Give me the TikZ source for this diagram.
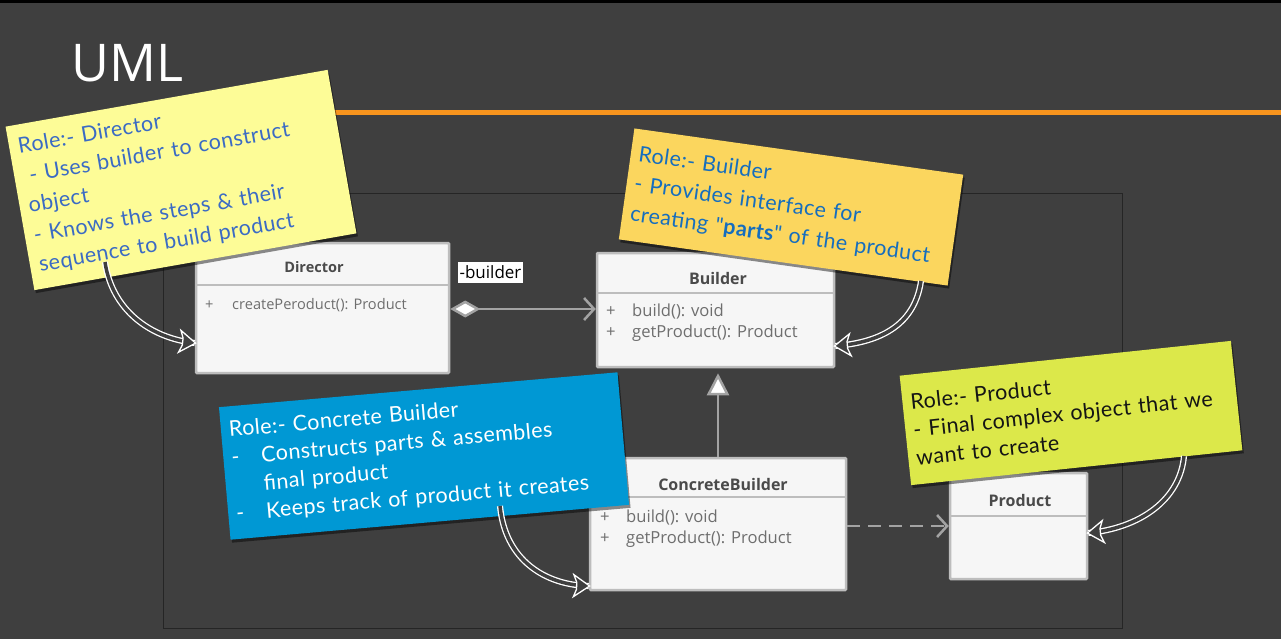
\documentclass[tikz,border=0pt]{standalone}
\usepackage{fontspec}
\setmainfont{Open Sans}
\newfontfamily\notefont[LetterSpace=2]{Lato}
\usetikzlibrary{arrows.meta,shadows,decorations.markings}
\definecolor{bgc}{HTML}{3F3F3F}
\definecolor{framec}{HTML}{252525}
\definecolor{orangec}{HTML}{F7941D}
\definecolor{boxfill}{HTML}{F6F6F6}
\definecolor{boxline}{HTML}{BDBDBD}
\definecolor{titlec}{HTML}{4A4A4A}
\definecolor{opc}{HTML}{6E6E6E}
\definecolor{connc}{HTML}{A3A3A3}
\definecolor{dyel}{HTML}{FDFC97}
\definecolor{dblue}{HTML}{3B6BC4}
\definecolor{byel}{HTML}{FBD65E}
\definecolor{bblue}{HTML}{166EBE}
\definecolor{cblue}{HTML}{0098D4}
\definecolor{pgreen}{HTML}{DCE84A}
\definecolor{ptext}{HTML}{151515}
\begin{document}
\begin{tikzpicture}[x=1pt,y=-1pt,
  umlbox/.style={draw=boxline, fill=boxfill, line width=2.5pt, rounded corners=1pt, inner sep=0pt},
  umltitle/.style={font=\fontsize{16}{19}\selectfont\bfseries, text=titlec, inner sep=0pt},
  umlop/.style={font=\fontsize{16.6}{21}\selectfont, text=opc, inner sep=0pt, anchor=west, align=left},
  divider/.style={draw=boxline, line width=2.5pt},
  conn/.style={draw=connc, line width=2.5pt},
  note/.style={inner sep=0pt, align=left, font=\notefont\fontsize{21.5}{30}\selectfont,
    drop shadow={shadow xshift=1.5pt, shadow yshift=-3pt, opacity=0.45, fill=black}},
  handarrow/.style={draw=white, line width=1.3pt, double=bgc, double distance=3.5pt,
    postaction={decorate},
    decoration={markings, mark=at position 0.999 with {
      \filldraw[draw=white, fill=bgc, line width=1.3pt, line join=miter]
        (1pt,0pt) -- (-15pt,11pt) -- (-12pt,3.5pt) -- (-12pt,-3.5pt) -- (-15pt,-11pt) -- cycle;}}}
]
\useasboundingbox (0,0) rectangle (1281,639);
% background
\fill[bgc] (0,0) rectangle (1281,639);
\fill[black] (0,0) rectangle (1281,3);
\fill[orangec] (300,110) rectangle (1281,115);
\draw[framec, line width=1pt] (163,193) rectangle (1122,628);
% title
\node[text=white, font=\fontsize{52}{60}\selectfont, anchor=base west, inner sep=0pt] (title) at (71,82) {UML};

% UML classes
\node[umlbox, minimum width=253, minimum height=130] (dir) at (322.5,308) {};
\draw[divider] (dir.west |- 0,285) -- (dir.east |- 0,285);
\node[umltitle, font=\fontsize{14.5}{17}\selectfont\bfseries] (dirT) at (314,267) {Director};
\node[umlop, font=\fontsize{14.6}{20}\selectfont] (dirOp) at (205,305) {\makebox[27pt][l]{+}createPeroduct(): Product};

\node[umlbox, minimum width=237, minimum height=114] (bld) at (715.5,310) {};
\draw[divider] (bld.west |- 0,293) -- (bld.east |- 0,293);
\node[umltitle] (bldT) at (718,278) {Builder};
\node[umlop] (bldOp) at (606,322.5) {\makebox[26pt][l]{+}build(): void\\\makebox[26pt][l]{+}getProduct(): Product};

\node[umlbox, minimum width=256, minimum height=132] (cb) at (718,524) {};
\draw[divider] (cb.west |- 0,497) -- (cb.east |- 0,497);
\node[umltitle] (cbT) at (723,484) {ConcreteBuilder};
\node[umlop] (cbOp) at (600,528.5) {\makebox[26pt][l]{+}build(): void\\\makebox[26pt][l]{+}getProduct(): Product};

\node[umlbox, minimum width=137, minimum height=106] (prod) at (1018.5,526) {};
\draw[divider] (prod.west |- 0,516) -- (prod.east |- 0,516);
\node[umltitle] (prodT) at (1020,500) {Product};

% connectors
\draw[conn, {Diamond[fill=white, length=30pt, width=17pt, line width=2.5pt]}-{Straight Barb[length=10pt, width=22pt, line width=2.5pt]}]
  (dir.east |- 0,309) -- (bld.west |- 0,309);
\node[fill=white, text=black, font=\fontsize{17}{20}\selectfont, inner sep=1.5pt, minimum height=21pt] (lbl) at (490.5,272.5) {-builder};
\draw[conn, shorten >=5pt, -{Triangle[fill=white, length=22pt, width=22pt, line width=2.5pt]}]
  (cb.north) -- (cb.north |- bld.south);
\draw[conn, dash pattern=on 13pt off 8pt, -{Straight Barb[length=10pt, width=22pt, line width=2.5pt]}]
  (cb.east |- 0,526) -- (prod.west |- 0,526);

% sticky notes
\node[note, fill=dyel, text=dblue, rotate=10, minimum width=327, minimum height=166, text width=309] (dnote) at (181,180)
  {Role:- Director\\\hspace*{6pt}- Uses builder to construct\\object\\- Knows the steps \& their\\sequence to build product};
\node[note, fill=byel, text=bblue, rotate=-8, minimum width=332, minimum height=112, text width=316] (bnote) at (791,207)
  {Role:- Builder\\- Provides interface for\\creating "\textbf{parts}" of the product};
\node[note, fill=cblue, text=white, rotate=5, minimum width=400, minimum height=133, text width=384, font=\notefont\fontsize{21.5}{28}\selectfont] (cnote) at (424,456)
  {Role:- Concrete Builder\\\makebox[30pt][l]{-}Constructs parts \& assembles\\\hspace*{30pt}final product\\\makebox[30pt][l]{-}Keeps track of product it creates};
\node[note, fill=pgreen, text=ptext, rotate=6, minimum width=333, minimum height=110, text width=317, font=\notefont\fontsize{21.5}{28}\selectfont] (pnote) at (1071,413)
  {Role:- Product\\- Final complex object that we\\want to create};

% hand-drawn arrows
\coordinate (ds) at (105,262);
\coordinate (bs) at (921,281);
\coordinate (cs) at (500,506);
\coordinate (ps) at (1184,456);
\draw[handarrow] (ds) .. controls (112,310) and (150,338) .. (dir.west |- 0,343);
\draw[handarrow] (bs) .. controls (915,322) and (885,342) .. (bld.east |- 0,346);
\draw[handarrow] (cs) .. controls (505,560) and (545,585) .. (cb.west |- 0,586);
\draw[handarrow] (ps) .. controls (1180,500) and (1140,528) .. (prod.east |- 0,533);
\end{tikzpicture}
\end{document}
